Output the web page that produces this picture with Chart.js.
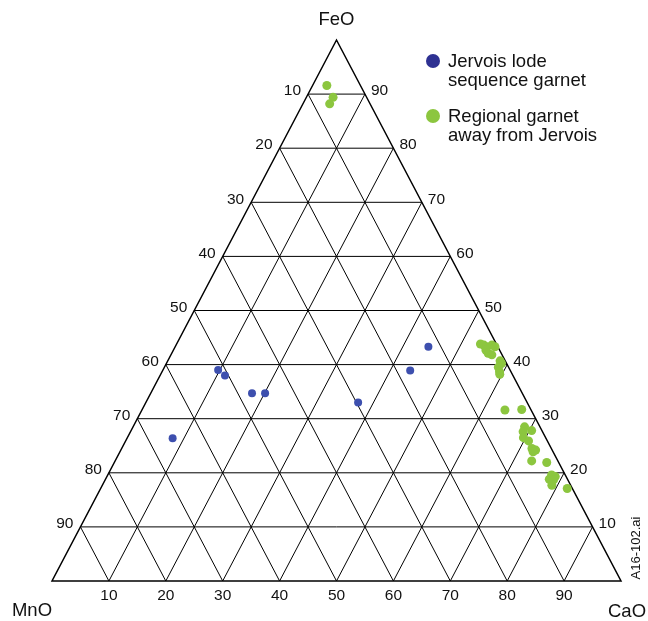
<!DOCTYPE html>
<html>
<head>
<meta charset="utf-8">
<script src="https://cdn.jsdelivr.net/npm/chart.js@4.4.1/dist/chart.umd.min.js"></script>
<style>
  body { margin: 0; background: #fff; }
</style>
</head>
<body>
<canvas id="ternaryChart" width="648" height="621"></canvas>
<script>
// ternary data (wt %)
const ticks = [10, 20, 30, 40, 50, 60, 70, 80, 90];

const jervoisFeO = [39.0, 38.0, 34.7, 34.7, 26.4, 43.3, 38.9, 33.0];
const jervoisMnO = [51.3, 50.6, 47.5, 45.2, 65.6, 12.2, 17.6, 29.7];
const jervoisCaO = [9.7, 11.4, 17.8, 20.1, 8.0, 44.5, 43.5, 37.3];

const regionalFeO = [91.6, 89.4, 88.2, 43.8, 43.6, 43.3, 43.6, 43.3, 42.7, 42.1, 41.8, 40.7,
  40.2, 39.5, 38.7, 38.2, 31.6, 31.7, 28.5, 27.6, 27.8, 26.5, 25.9, 24.5, 24.2, 23.9,
  22.2, 21.9, 19.6, 19.3, 18.8, 18.7, 17.7, 17.1];
const regionalMnO = [5.9, 5.9, 7.1, 2.8, 2.3, 2.0, 0.9, 0.5, 2.4, 2.3, 1.8, 0.9,
  0.9, 1.8, 2.0, 2.2, 4.6, 1.6, 2.7, 3.4, 1.8, 3.9, 3.3, 3.4, 2.9, 3.5,
  4.6, 2.1, 2.4, 1.9, 3.2, 2.5, 3.3, 0.9];
const regionalCaO = [2.5, 4.7, 4.7, 53.4, 54.1, 54.7, 55.5, 56.2, 54.9, 55.6, 56.4, 58.4,
  58.9, 58.7, 59.3, 59.6, 63.8, 66.7, 68.8, 69.0, 70.4, 69.6, 70.8, 72.1, 72.9, 72.6,
  73.2, 76.0, 78.0, 78.8, 78.0, 78.8, 79.0, 82.0];

const seriesNames = [['Jervois lode', 'sequence garnet'], ['Regional garnet', 'away from Jervois']];
const seriesColors = ['#3d4fae', '#8cc63f'];
const legendColors = ['#2e3192', '#8cc63f'];

// ternary -> cartesian (CaO to the right, FeO up)
function toXY(feo, mno, cao) {
  const s = feo + mno + cao;
  const f = feo / s * 100, c = cao / s * 100;
  return { x: c + f / 2, y: f };
}

const jervoisPts = jervoisFeO.map((f, i) => toXY(f, jervoisMnO[i], jervoisCaO[i]));
const regionalPts = regionalFeO.map((f, i) => toXY(f, regionalMnO[i], regionalCaO[i]));

const FONT = '"Liberation Sans", Arial, sans-serif';

const ternaryGrid = {
  id: 'ternaryGrid',
  beforeDatasetsDraw(chart) {
    const ctx = chart.ctx;
    const xs = chart.scales.x, ys = chart.scales.y;
    const P = (x, y) => [xs.getPixelForValue(x), ys.getPixelForValue(y)];
    const seg = (a, b) => {
      ctx.beginPath();
      ctx.moveTo(a[0], a[1]);
      ctx.lineTo(b[0], b[1]);
      ctx.stroke();
    };
    ctx.save();
    ctx.strokeStyle = '#000';
    ctx.lineWidth = 1;
    ticks.forEach(k => {
      // constant FeO
      seg(P(k / 2, k), P(100 - k / 2, k));
      // constant CaO
      seg(P(k, 0), P(k + (100 - k) / 2, 100 - k));
      // constant MnO
      seg(P(100 - k, 0), P((100 - k) / 2, 100 - k));
    });
    ctx.lineWidth = 1.5;
    ctx.beginPath();
    const a = P(0, 0), b = P(100, 0), c = P(50, 100);
    ctx.moveTo(a[0], a[1]);
    ctx.lineTo(b[0], b[1]);
    ctx.lineTo(c[0], c[1]);
    ctx.closePath();
    ctx.stroke();
    ctx.restore();
  },
  afterDraw(chart) {
    const ctx = chart.ctx;
    const xs = chart.scales.x, ys = chart.scales.y;
    const P = (x, y) => [xs.getPixelForValue(x), ys.getPixelForValue(y)];
    ctx.save();
    ctx.fillStyle = '#111';
    ctx.font = '15.5px ' + FONT;
    ctx.textBaseline = 'middle';
    ticks.forEach(k => {
      const l = P(k / 2, k);
      ctx.textAlign = 'right';
      ctx.fillText(String(100 - k), l[0] - 7, l[1] - 3);
      const r = P(100 - k / 2, k);
      ctx.textAlign = 'left';
      ctx.fillText(String(k), r[0] + 6, r[1] - 3);
      const bt = P(k, 0);
      ctx.textAlign = 'center';
      ctx.fillText(String(k), bt[0], bt[1] + 15);
    });

    // apex labels
    ctx.font = '18.5px ' + FONT;
    ctx.textAlign = 'center';
    const top = P(50, 100);
    ctx.fillText('FeO', top[0], top[1] - 20);
    const bl = P(0, 0), br = P(100, 0);
    ctx.fillText('MnO', bl[0] - 20, bl[1] + 30);
    ctx.fillText('CaO', br[0] + 6, br[1] + 31);

    // legend
    const lx = 433, ly = [62, 117];
    seriesNames.forEach((lines, i) => {
      ctx.fillStyle = legendColors[i];
      ctx.beginPath();
      ctx.arc(lx, ly[i] - 1, 7, 0, Math.PI * 2);
      ctx.fill();
      ctx.fillStyle = '#111';
      ctx.font = '18.5px ' + FONT;
      ctx.textAlign = 'left';
      lines.forEach((t, j) => ctx.fillText(t, lx + 15, ly[i] + j * 18.5));
    });

    // file tag
    ctx.translate(636, 548);
    ctx.rotate(-Math.PI / 2);
    ctx.font = '13px ' + FONT;
    ctx.textAlign = 'center';
    ctx.fillText('A16-102.ai', 0, 0);
    ctx.restore();
  }
};

new Chart(document.getElementById('ternaryChart'), {
  type: 'scatter',
  data: {
    datasets: [{
      label: seriesNames[0].join(' '),
      data: jervoisPts,
      backgroundColor: seriesColors[0],
      borderWidth: 0,
      pointRadius: 4
    }, {
      label: seriesNames[1].join(' '),
      data: regionalPts,
      backgroundColor: seriesColors[1],
      borderWidth: 0,
      pointRadius: 4.5
    }]
  },
  options: {
    responsive: false,
    animation: false,
    layout: { padding: { left: 52, right: 27, top: 40, bottom: 40 } },
    scales: {
      x: { type: 'linear', min: 0, max: 100, display: false },
      y: { type: 'linear', min: 0, max: 100, display: false }
    },
    plugins: {
      legend: { display: false },
      tooltip: { enabled: false }
    }
  },
  plugins: [ternaryGrid]
});
</script>
</body>
</html>
